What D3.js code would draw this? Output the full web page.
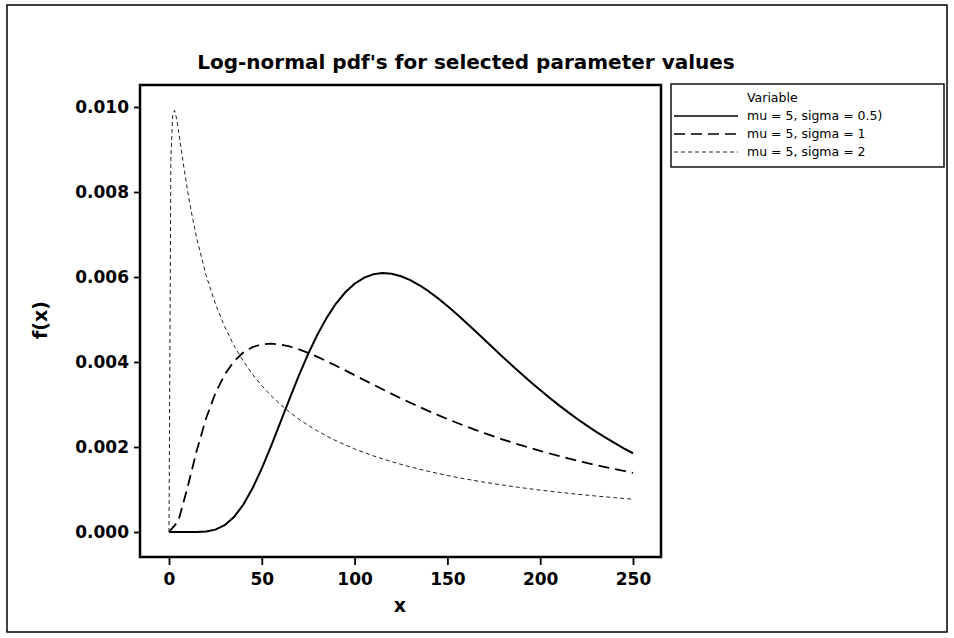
<!DOCTYPE html>
<html>
<head>
<meta charset="utf-8">
<script src="https://cdn.jsdelivr.net/npm/d3@7"></script>
<style>
  html, body { margin: 0; padding: 0; background: #fff; }
  svg { display: block; }
</style>
</head>
<body>
<svg id="chart" width="954" height="638"></svg>
<script>
// Log-normal densities, mu = 5, for three sigma values
const xTicks = [0, 50, 100, 150, 200, 250];
const yTicks = [0.000, 0.002, 0.004, 0.006, 0.008, 0.010];
const seriesNames = ["mu = 5, sigma = 0.5)", "mu = 5, sigma = 1", "mu = 5, sigma = 2"];

const xGrid5 = [0, 5, 10, 15, 20, 25, 30, 35, 40, 45, 50, 55, 60, 65, 70, 75, 80, 85, 90, 95,
  100, 105, 110, 115, 120, 125, 130, 135, 140, 145, 150, 155, 160, 165, 170, 175, 180, 185, 190, 195,
  200, 205, 210, 215, 220, 225, 230, 235, 240, 245, 250];

const sigmaHalf = [0, 0, 0, 0.0000015, 0.0000129, 0.000056, 0.000160, 0.000351, 0.000641, 0.001028,
  0.001496, 0.002021, 0.002577, 0.003140, 0.003684, 0.004190, 0.004647, 0.005044, 0.005375, 0.005641,
  0.005841, 0.005981, 0.006063, 0.006092, 0.006075, 0.006017, 0.005926, 0.005805, 0.005660, 0.005497,
  0.005318, 0.005128, 0.004931, 0.004728, 0.004523, 0.004318, 0.004114, 0.003914, 0.003717, 0.003525,
  0.003339, 0.003159, 0.002986, 0.002820, 0.002660, 0.002508, 0.002363, 0.002225, 0.002095, 0.001970,
  0.001853];

const sigmaOne = [0, 0.000254, 0.001050, 0.001924, 0.002677, 0.003267, 0.003705, 0.004014, 0.004223, 0.004350,
  0.004415, 0.004432, 0.004412, 0.004365, 0.004297, 0.004214, 0.004120, 0.004018, 0.003911, 0.003802,
  0.003690, 0.003579, 0.003468, 0.003358, 0.003250, 0.003145, 0.003042, 0.002942, 0.002845, 0.002751,
  0.002659, 0.002571, 0.002486, 0.002404, 0.002325, 0.002249, 0.002175, 0.002105, 0.002037, 0.001971,
  0.001908, 0.001847, 0.001789, 0.001732, 0.001678, 0.001626, 0.001576, 0.001527, 0.001481, 0.001436,
  0.001393];

const xGridTwo = [0, 1, 2, 3, 4, 5, 6, 8, 10, 12, 15, 20, 25, 30, 35, 40, 45, 50, 55, 60, 65, 70, 75, 80,
  85, 90, 95, 100, 110, 120, 130, 140, 150, 160, 170, 180, 190, 200, 210, 220, 230, 240, 250];

const sigmaTwo = [0, 0.00876, 0.009815, 0.009920, 0.009747, 0.009480, 0.009182, 0.008585, 0.008033, 0.007539,
  0.006896, 0.006036, 0.005367, 0.004831, 0.004390, 0.004023, 0.003710, 0.003441, 0.003206, 0.003001,
  0.002818, 0.002655, 0.002509, 0.002377, 0.002257, 0.002148, 0.002048, 0.001956, 0.001793, 0.001653,
  0.001531, 0.001424, 0.001330, 0.001246, 0.001171, 0.001103, 0.001042, 0.000986, 0.000936, 0.000889,
  0.000847, 0.000808, 0.000771];

const series = [
  { name: seriesNames[0], xs: xGrid5, ys: sigmaHalf, width: 2.0, dash: null, color: "#000" },
  { name: seriesNames[1], xs: xGrid5, ys: sigmaOne, width: 1.8, dash: "11,6", color: "#000" },
  { name: seriesNames[2], xs: xGridTwo, ys: sigmaTwo, width: 1.0, dash: "4,3", color: "#222" }
];

const svg = d3.select("#chart");
const font = "'DejaVu Sans', Verdana, sans-serif";

// outer border of the graph window
svg.append("rect")
  .attr("x", 7).attr("y", 5).attr("width", 940).attr("height", 627)
  .attr("fill", "none").attr("stroke", "#000").attr("stroke-width", 1.5);

// data region frame
const frame = { left: 140, right: 661, top: 85, bottom: 557 };

const x = d3.scaleLinear().domain([0, 250]).range([169, 633]);
const y = d3.scaleLinear().domain([0, 0.010]).range([532, 107]);

svg.append("rect")
  .attr("x", frame.left).attr("y", frame.top)
  .attr("width", frame.right - frame.left).attr("height", frame.bottom - frame.top)
  .attr("fill", "none").attr("stroke", "#000").attr("stroke-width", 2.5);

// axes
const yAxis = d3.axisLeft(y).tickValues(yTicks).tickFormat(d3.format(".3f")).tickSize(6).tickPadding(5);
const gy = svg.append("g").attr("transform", `translate(${frame.left},0)`).call(yAxis);
const xAxis = d3.axisBottom(x).tickValues(xTicks).tickFormat(d3.format("d")).tickSize(8).tickPadding(8);
const gx = svg.append("g").attr("transform", `translate(0,${frame.bottom})`).call(xAxis);

[gy, gx].forEach(g => {
  g.select(".domain").remove();
  g.selectAll(".tick line").attr("stroke", "#000").attr("stroke-width", 1.8);
  g.selectAll(".tick text")
    .attr("fill", "#000")
    .style("font-family", font)
    .style("font-weight", "bold")
    .style("font-size", "17px");
});

// curves
const line = d3.line().x(d => x(d[0])).y(d => y(d[1]));
series.forEach(s => {
  const pts = s.xs.map((v, i) => [v, s.ys[i]]);
  svg.append("path")
    .datum(pts)
    .attr("d", line)
    .attr("fill", "none")
    .attr("stroke", s.color)
    .attr("stroke-width", s.width)
    .attr("stroke-linejoin", "round")
    .attr("stroke-dasharray", s.dash);
});

// title and axis labels
svg.append("text")
  .attr("x", 466).attr("y", 69)
  .attr("text-anchor", "middle")
  .style("font-family", font).style("font-weight", "bold").style("font-size", "20px")
  .text("Log-normal pdf's for selected parameter values");

svg.append("text")
  .attr("transform", "translate(47,320) rotate(-90)")
  .attr("text-anchor", "middle")
  .style("font-family", font).style("font-weight", "bold").style("font-size", "19px")
  .text("f(x)");

svg.append("text")
  .attr("x", 400).attr("y", 612)
  .attr("text-anchor", "middle")
  .style("font-family", font).style("font-weight", "bold").style("font-size", "19px")
  .text("x");

// legend
const lg = svg.append("g");
lg.append("rect")
  .attr("x", 671).attr("y", 84).attr("width", 273).attr("height", 83)
  .attr("fill", "none").attr("stroke", "#000").attr("stroke-width", 1.4);
lg.append("text")
  .attr("x", 747).attr("y", 102)
  .style("font-family", font).style("font-size", "12.5px")
  .text("Variable");
series.forEach((s, i) => {
  const yy = 120 + i * 18;
  lg.append("line")
    .attr("x1", 674).attr("x2", 738).attr("y1", yy - 4).attr("y2", yy - 4)
    .attr("stroke", s.color).attr("stroke-width", Math.min(s.width, 1.4))
    .attr("stroke-dasharray", s.dash);
  lg.append("text")
    .attr("x", 747).attr("y", yy)
    .style("font-family", font).style("font-size", "12.5px")
    .text(s.name);
});
</script>
</body>
</html>
